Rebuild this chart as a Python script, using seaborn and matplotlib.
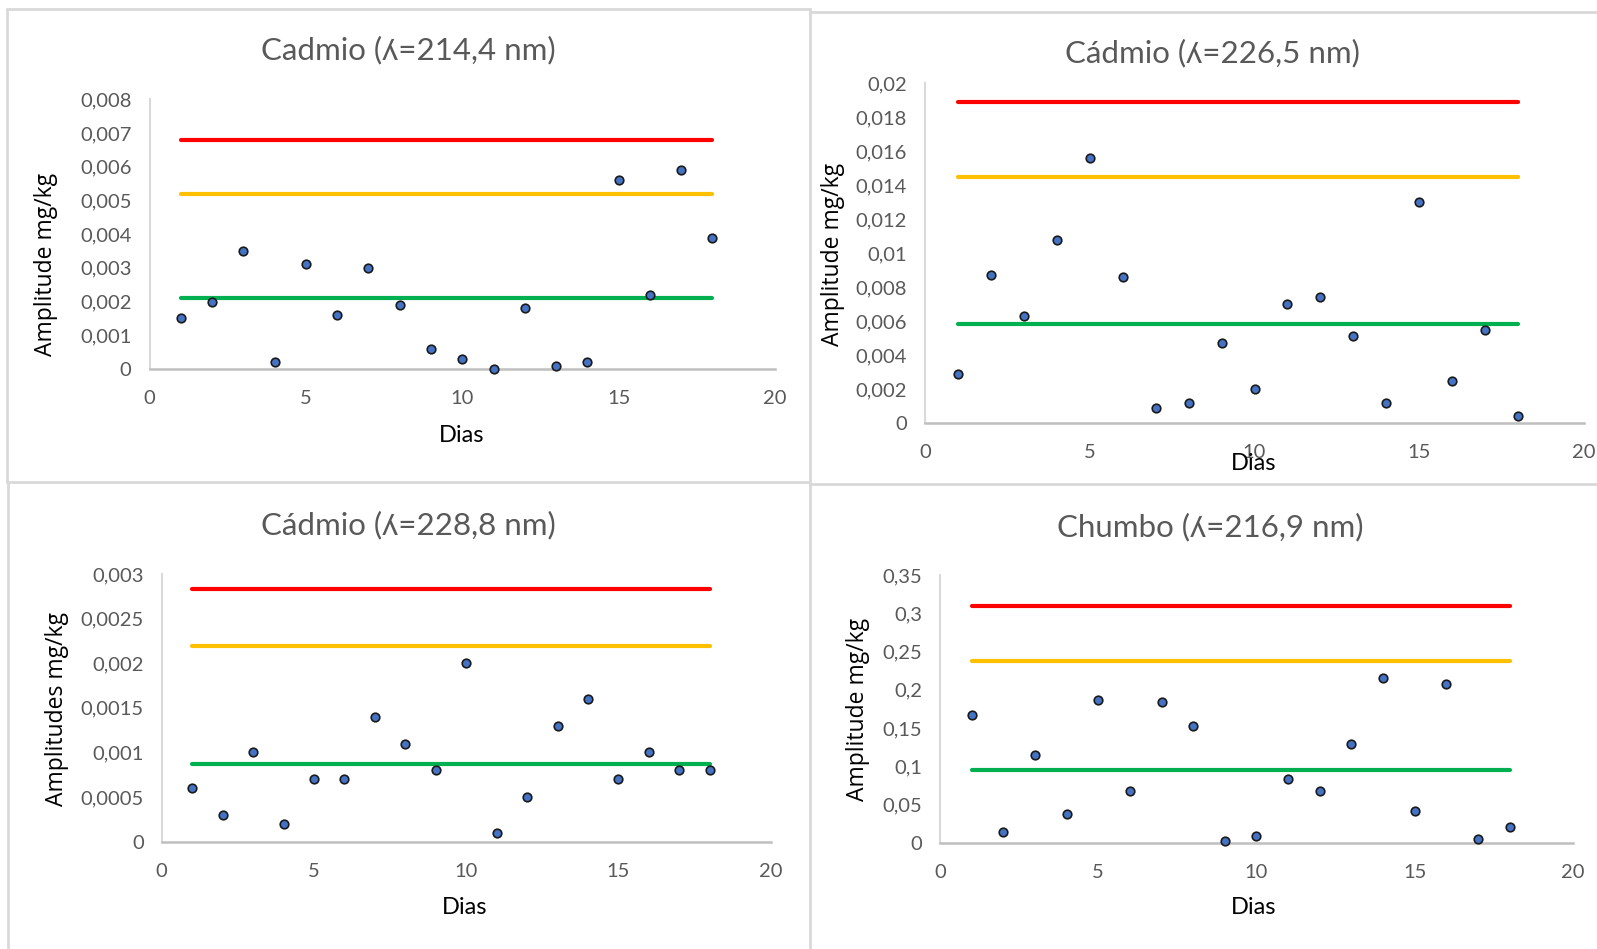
import matplotlib
matplotlib.use("Agg")
import matplotlib.pyplot as plt
import seaborn as sns
import pandas as pd
from matplotlib.lines import Line2D

sns.set_theme(style="white")
plt.rcParams['font.family'] = ['Lato', 'DejaVu Sans']

# ---------------- data ----------------
dias = list(range(1, 19))

cd2144_values = [0.0015, 0.0020, 0.0035, 0.0002, 0.0031, 0.0016, 0.0030, 0.0019, 0.0006,
                 0.0003, 0.0000, 0.0018, 0.0001, 0.0002, 0.0056, 0.0022, 0.0059, 0.0039]
cd2144_limits = [0.0068, 0.0052, 0.0021]

cd2265_values = [0.0029, 0.0087, 0.0063, 0.0108, 0.0156, 0.0086, 0.0009, 0.0012, 0.0047,
                 0.0020, 0.0070, 0.0074, 0.0051, 0.0012, 0.0130, 0.0025, 0.0055, 0.0004]
cd2265_limits = [0.0189, 0.0145, 0.0058]

cd2288_values = [0.0006, 0.0003, 0.0010, 0.0002, 0.0007, 0.0007, 0.0014, 0.0011, 0.0008,
                 0.0020, 0.0001, 0.0005, 0.0013, 0.0016, 0.0007, 0.0010, 0.0008, 0.0008]
cd2288_limits = [0.00283, 0.00219, 0.00087]

pb2169_values = [0.167, 0.0135, 0.115, 0.038, 0.186, 0.068, 0.184, 0.152, 0.0026,
                 0.0087, 0.083, 0.068, 0.129, 0.215, 0.041, 0.207, 0.0044, 0.021]
pb2169_limits = [0.309, 0.238, 0.095]

titles = ["Cadmio (ʎ=214,4 nm)", "Cádmio (ʎ=226,5 nm)",
          "Cádmio (ʎ=228,8 nm)", "Chumbo (ʎ=216,9 nm)"]
ylabels = ["Amplitude mg/kg", "Amplitude mg/kg", "Amplitudes mg/kg", "Amplitude mg/kg"]
xlabel = "Dias"

xticks = [0, 5, 10, 15, 20]
xticklabels = ["0", "5", "10", "15", "20"]

yticks_1 = [0, 0.001, 0.002, 0.003, 0.004, 0.005, 0.006, 0.007, 0.008]
yticklabels_1 = ["0", "0,001", "0,002", "0,003", "0,004", "0,005", "0,006", "0,007", "0,008"]
yticks_2 = [0, 0.002, 0.004, 0.006, 0.008, 0.010, 0.012, 0.014, 0.016, 0.018, 0.020]
yticklabels_2 = ["0", "0,002", "0,004", "0,006", "0,008", "0,01", "0,012", "0,014", "0,016",
                 "0,018", "0,02"]
yticks_3 = [0, 0.0005, 0.001, 0.0015, 0.002, 0.0025, 0.003]
yticklabels_3 = ["0", "0,0005", "0,001", "0,0015", "0,002", "0,0025", "0,003"]
yticks_4 = [0, 0.05, 0.1, 0.15, 0.2, 0.25, 0.3, 0.35]
yticklabels_4 = ["0", "0,05", "0,1", "0,15", "0,2", "0,25", "0,3", "0,35"]

limit_colors = ["#FF0000", "#FFC000", "#00B050"]

# ---------------- layout (pixels) ----------------
W, H = 1597, 949
fig = plt.figure(figsize=(W / 100, H / 100), dpi=100)

panels = [
    dict(values=cd2144_values, limits=cd2144_limits, yt=yticks_1, ytl=yticklabels_1,
         ax_px=(149.5, 775, 369, 99.3), title_xy=(408, 50), xlab_xy=(462, 435),
         ylab_xy=(46, 264)),
    dict(values=cd2265_values, limits=cd2265_limits, yt=yticks_2, ytl=yticklabels_2,
         ax_px=(925, 1584, 423, 83.3), title_xy=(1212, 53), xlab_xy=(1254, 463),
         ylab_xy=(833, 254)),
    dict(values=cd2288_values, limits=cd2288_limits, yt=yticks_3, ytl=yticklabels_3,
         ax_px=(161.7, 770.7, 841.7, 574), title_xy=(408, 525), xlab_xy=(465, 908),
         ylab_xy=(57, 709)),
    dict(values=pb2169_values, limits=pb2169_limits, yt=yticks_4, ytl=yticklabels_4,
         ax_px=(940, 1573, 842.7, 575), title_xy=(1210, 527), xlab_xy=(1254, 908),
         ylab_xy=(858, 709)),
]

# panel frames
frame_col = "#D9D9D9"
frame_lines = [
    ((7, 810), (9, 9)), ((7, 7), (9, 482)), ((7, 810), (482, 482)), ((810, 810), (9, 949)),
    ((810, 1597), (12, 12)), ((810, 1597), (484, 484)),
    ((8, 8), (482, 949)),
]
for xs, ys in frame_lines:
    fig.add_artist(Line2D([x / W for x in xs], [1 - y / H for y in ys],
                          color=frame_col, lw=2.0, transform=fig.transFigure))

for i, p in enumerate(panels):
    x0, x1, y0, y1 = p["ax_px"]
    ax = fig.add_axes([x0 / W, 1 - y0 / H, (x1 - x0) / W, (y0 - y1) / H])
    df = pd.DataFrame({"Dias": dias, "Amplitude": p["values"]})
    for lim, col in zip(p["limits"], limit_colors):
        ldf = pd.DataFrame({"Dias": [dias[0], dias[-1]], "Amplitude": [lim, lim]})
        sns.lineplot(data=ldf, x="Dias", y="Amplitude", ax=ax, color=col, lw=3.0,
                     solid_capstyle="round", zorder=2)
    sns.scatterplot(data=df, x="Dias", y="Amplitude", ax=ax, s=38, color="#4472C4",
                    edgecolor="#1a1a1a", linewidth=1.2, zorder=3, clip_on=False)
    ax.set_xlim(0, 20)
    ax.set_ylim(p["yt"][0], p["yt"][-1])
    ax.set_xticks(xticks)
    ax.set_xticklabels(xticklabels)
    ax.set_yticks(p["yt"])
    ax.set_yticklabels(p["ytl"])
    ax.tick_params(axis="both", length=0, labelsize=14.5, labelcolor="#595959")
    ax.tick_params(axis="x", pad=15)
    ax.tick_params(axis="y", pad=13)
    ax.set_xlabel("")
    ax.set_ylabel("")
    ax.grid(False)
    ax.set_facecolor("none")
    for s in ["top", "right"]:
        ax.spines[s].set_visible(False)
    ax.spines["left"].set_color("#D9D9D9")
    ax.spines["left"].set_linewidth(1.5)
    ax.spines["bottom"].set_color("#BFBFBF")
    ax.spines["bottom"].set_linewidth(1.8)
    ax.spines["left"].set_zorder(1)

    tx, ty = p["title_xy"]
    fig.text(tx / W, 1 - ty / H, titles[i], ha="center", va="center", fontsize=22.5,
             color="#595959")
    lx, ly = p["xlab_xy"]
    fig.text(lx / W, 1 - ly / H, xlabel, ha="center", va="center", fontsize=17,
             color="black")
    yx, yy = p["ylab_xy"]
    fig.text(yx / W, 1 - yy / H, ylabels[i], ha="center", va="center", fontsize=16.5,
             rotation=90, color="black", family=["Open Sans", "DejaVu Sans"])

fig.savefig("out.png", dpi=100, facecolor="white")
